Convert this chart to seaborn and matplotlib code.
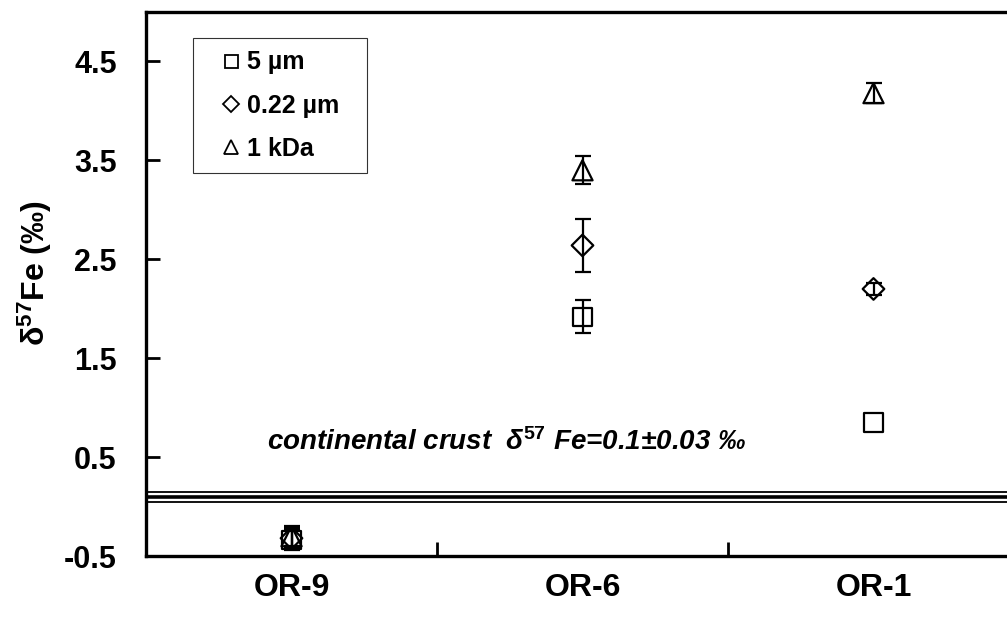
import numpy as np
import pandas as pd
import seaborn as sns
import matplotlib.pyplot as plt
from matplotlib.lines import Line2D

# Datos
sites = ["OR-9", "OR-6", "OR-1"]
fractions = ["5 µm", "0.22 µm", "1 kDa"]
delta_5um = [-0.34, 1.92, 0.85]
err_5um = [0.10, 0.17, 0.0]
delta_022um = [-0.32, 2.64, 2.20]
err_022um = [0.10, 0.27, 0.06]
delta_1kda = [-0.30, 3.40, 4.18]
err_1kda = [0.10, 0.14, 0.10]
crust_lines = [0.15, 0.10, 0.05]

sns.set_theme(style="white")
plt.rcParams["font.family"] = ["Liberation Sans", "DejaVu Sans"]
plt.rcParams["font.weight"] = "bold"
plt.rcParams["text.color"] = "black"
plt.rcParams["axes.labelcolor"] = "black"
plt.rcParams["xtick.color"] = "black"
plt.rcParams["ytick.color"] = "black"
plt.rcParams["mathtext.fontset"] = "custom"
plt.rcParams["mathtext.bf"] = "Liberation Sans:bold"
plt.rcParams["mathtext.rm"] = "Liberation Sans:bold"
plt.rcParams["mathtext.it"] = "Liberation Sans:italic:bold"
plt.rcParams["mathtext.default"] = "bf"

# Tabla larga para seaborn
df = pd.DataFrame({
    "site": sites * 3,
    "pos": list(range(len(sites))) * 3,
    "fraction": [fractions[0]] * 3 + [fractions[1]] * 3 + [fractions[2]] * 3,
    "delta": delta_5um + delta_022um + delta_1kda,
    "err": err_5um + err_022um + err_1kda,
})

markers = {"5 µm": "s", "0.22 µm": "D", "1 kDa": "^"}
sizes = {"5 µm": 13, "0.22 µm": 11, "1 kDa": 14.5}

fig = plt.figure(figsize=(10.07, 6.22), dpi=100)
ax = fig.add_axes([146 / 1007, 1 - 556 / 622, 873 / 1007, 544 / 622])

# Lineas de la corteza continental
for y, lw in zip(crust_lines, [1.3, 2.6, 1.3]):
    ax.axhline(y, color="black", lw=lw, zorder=1)

# Barras de error (solo donde hay error)
err_df = df[df["err"] > 0]
ax.errorbar(err_df["pos"], err_df["delta"], yerr=err_df["err"], fmt="none",
            ecolor="black", elinewidth=1.6, capsize=6, capthick=1.6, zorder=2)

# Puntos (marcadores huecos)
for frac in fractions:
    sub = df[df["fraction"] == frac]
    sns.scatterplot(data=sub, x="pos", y="delta", marker=markers[frac],
                    s=sizes[frac] ** 2, ax=ax, zorder=3, legend=False)
for coll in ax.collections[-3:]:
    coll.set_facecolor("none")
    coll.set_edgecolor("black")
    coll.set_linewidth(1.6)

ax.set_xlim(-0.5, 2.5)
ax.set_ylim(-0.5, 5.0)
ax.set_yticks(np.arange(-0.5, 5.0, 1.0))
ax.set_yticklabels(["-0.5", "0.5", "1.5", "2.5", "3.5", "4.5"])
ax.set_xticks([0.5, 1.5])
ax.set_xticklabels([])
ax.set_xticks([0, 1, 2], minor=True)
ax.set_xticklabels(sites, minor=True)
ax.tick_params(axis="x", which="major", direction="in", length=10, width=2, bottom=True)
ax.tick_params(axis="x", which="minor", length=0, pad=12, labelsize=23)
ax.tick_params(axis="y", direction="in", length=10, width=2, left=True, pad=21, labelsize=22)
for lab in ax.get_xticklabels(minor=True) + ax.get_yticklabels():
    lab.set_fontweight("bold")

for side in ["left", "bottom", "top"]:
    ax.spines[side].set_color("black")
    ax.spines[side].set_linewidth(2.4)
ax.spines["right"].set_visible(False)

ax.set_xlabel("")
ax.set_ylabel("δ$^{57}$Fe (‰)", fontsize=23, fontweight="bold")
ax.yaxis.set_label_coords(-0.105, 0.52)

ax.text(0.74, 0.575, "continental crust  δ$^{\\mathit{57}}$ Fe=0.1±0.03 ‰",
        ha="center", va="baseline", fontsize=20, style="italic", fontweight="bold")

handles = [Line2D([], [], ls="none", marker=markers[f], markersize=sizes[f] * 0.72,
                  markerfacecolor="none", markeredgecolor="black", markeredgewidth=1.3)
           for f in fractions]
leg = ax.legend(handles, fractions, loc="upper left",
                bbox_to_anchor=(47 / 873, 518 / 544 - 0.01, 174 / 873, 0.01), mode="expand",
                borderaxespad=0, frameon=True, fancybox=False, edgecolor="black",
                handlelength=2.04, handletextpad=-0.38, labelspacing=0.76, borderpad=0.5,
                prop={"size": 18, "weight": "bold"})
leg.get_frame().set_linewidth(0.8)

fig.savefig("out.png", dpi=100)
